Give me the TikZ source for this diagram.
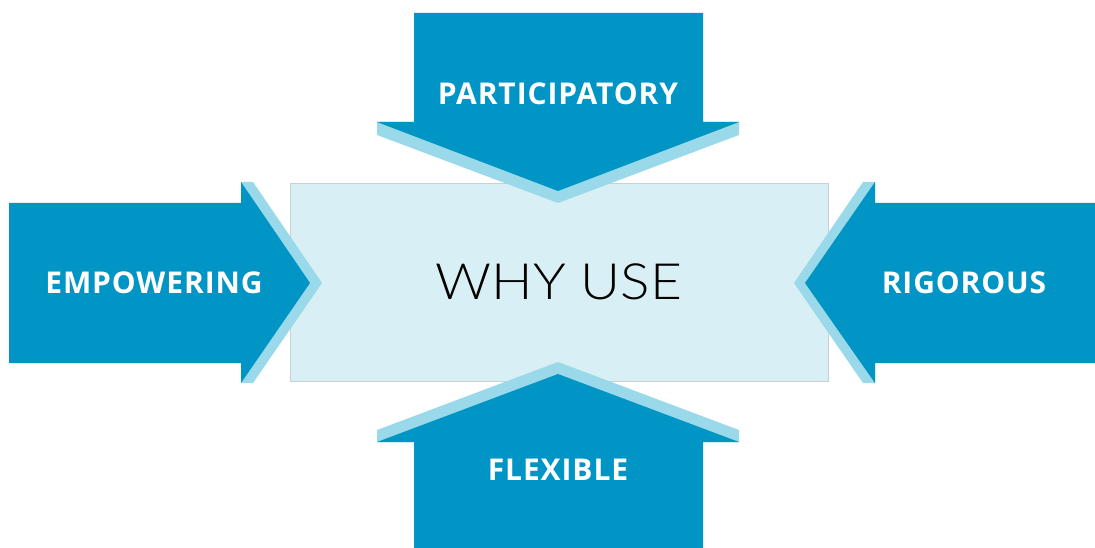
\documentclass[tikz,border=0pt]{standalone}
\usepackage{fontspec}
\setmainfont{Open Sans}
\newfontfamily\labelfont{Open Sans}[UprightFont=*-Bold,LetterSpace=3]
\newfontfamily\thinfont{Lato Light}[FakeStretch=1.1]
\definecolor{arrowblue}{RGB}{0,149,196}
\definecolor{bandblue}{RGB}{153,217,234}
\definecolor{boxfill}{RGB}{215,239,245}
\definecolor{boxline}{RGB}{200,208,212}
\begin{document}
\begin{tikzpicture}[x=1pt,y=-1pt,
  arrowbody/.style={fill=arrowblue,draw=none},
  arrowband/.style={fill=bandblue,draw=none},
  arrowlabel/.style={text=white,font=\labelfont\fontsize{30}{36}\selectfont,inner sep=0pt},
  centerlabel/.style={text=black,font=\thinfont\fontsize{50}{58}\selectfont,inner sep=0pt}]
  \useasboundingbox[fill=white] (0,0) rectangle (1095,548);

  % central box
  \draw[fill=boxfill,draw=boxline,line width=1pt] (290,184) rectangle (828,381);
  \node[centerlabel] (why) at (559,282) {WHY USE};

  % top arrow (pointing down)
  \fill[arrowband] (377,122) -- (739,122) -- (739,135) -- (558,203) -- (377,135) -- cycle;
  \fill[arrowbody] (414,13) -- (703,13) -- (703,122) -- (739,122) -- (558,191) -- (377,122) -- (414,122) -- cycle;
  \node[arrowlabel] (top) at (558,93.5) {PARTICIPATORY};

  % bottom arrow (pointing up)
  \fill[arrowband] (377,442) -- (739,442) -- (739,430) -- (558,362) -- (377,430) -- cycle;
  \fill[arrowbody] (414,548) -- (703,548) -- (703,442) -- (739,442) -- (558,374) -- (377,442) -- (414,442) -- cycle;
  \node[arrowlabel] (bottom) at (558,470) {FLEXIBLE};

  % left arrow (pointing right)
  \fill[arrowband] (241,182) -- (253,182) -- (322,283) -- (253,383) -- (241,383) -- cycle;
  \fill[arrowbody] (9,203) -- (241,203) -- (241,182) -- (310,283) -- (241,383) -- (241,363) -- (9,363) -- cycle;
  \node[arrowlabel] (left) at (154,283) {EMPOWERING};

  % right arrow (pointing left)
  \fill[arrowband] (875,182) -- (863,182) -- (794,283) -- (863,383) -- (875,383) -- cycle;
  \fill[arrowbody] (1095,203) -- (875,203) -- (875,182) -- (805,283) -- (875,383) -- (875,363) -- (1095,363) -- cycle;
  \node[arrowlabel] (right) at (964,283) {RIGOROUS};
\end{tikzpicture}
\end{document}
